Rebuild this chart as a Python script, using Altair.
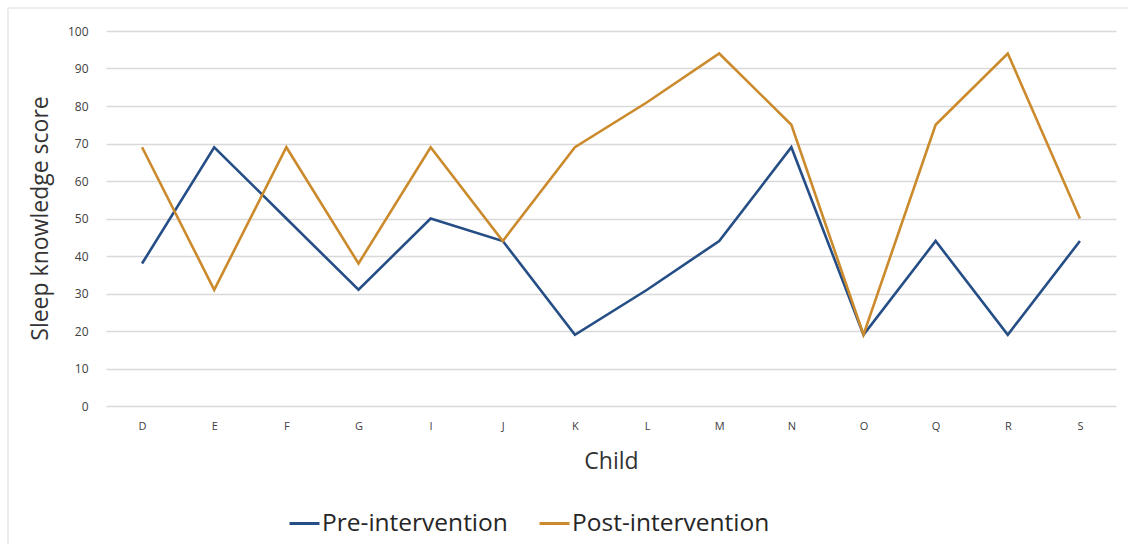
import altair as alt
import pandas as pd

children = ["D", "E", "F", "G", "I", "J", "K", "L", "M", "N", "O", "Q", "R", "S"]
pre_scores = [38, 69, 50, 31, 50, 44, 19, 31, 44, 69, 19, 44, 19, 44]
post_scores = [69, 31, 69, 38, 69, 44, 69, 81, 94, 75, 19, 75, 94, 50]
series_names = ["Pre-intervention", "Post-intervention"]
series_colors = ["#264E86", "#CB8A2C"]

rows = []
for c, a, b in zip(children, pre_scores, post_scores):
    rows.append({"Child": c, "Score": a, "Series": series_names[0]})
    rows.append({"Child": c, "Score": b, "Series": series_names[1]})
df = pd.DataFrame(rows)

FONT = "Open Sans"

lines = alt.Chart(df).mark_line(strokeWidth=2.6).encode(
    x=alt.X(
        "Child:N",
        sort=children,
        scale=alt.Scale(type="point", padding=0.5),
        axis=alt.Axis(
            title="Child",
            titleFont=FONT,
            titleFontSize=23,
            titleFontWeight="normal",
            titleColor="#333333",
            titleY=44,
            labelAngle=0,
            labelFont=FONT,
            labelFontSize=11,
            labelColor="#404040",
            labelPadding=14,
            ticks=False,
            domain=False,
            grid=False,
        ),
    ),
    y=alt.Y(
        "Score:Q",
        scale=alt.Scale(domain=[0, 100], nice=False),
        axis=alt.Axis(
            title="Sleep knowledge score",
            titleFont=FONT,
            titleFontSize=23,
            titleFontWeight="normal",
            titleColor="#333333",
            titleX=-66,
            titleY=187,
            titleAngle=270,
            titleBaseline="middle",
            titleAlign="center",
            values=list(range(0, 101, 10)),
            labelFont=FONT,
            labelFontSize=12,
            labelColor="#404040",
            labelPadding=18,
            ticks=False,
            domain=False,
            gridColor="#D9D9D9",
            gridWidth=1.5,
        ),
    ),
    color=alt.Color(
        "Series:N",
        sort=series_names,
        scale=alt.Scale(domain=series_names, range=series_colors),
        legend=alt.Legend(
            title=None,
            orient="none",
            direction="horizontal",
            legendX=182,
            legendY=476,
            symbolType="stroke",
            symbolSize=900,
            symbolStrokeWidth=3,
            labelFont=FONT,
            labelFontSize=24.5,
            labelColor="#262626",
            labelLimit=0,
            labelOffset=1,
            columnPadding=25,
        ),
    ),
)

# thin frame around the chart area (top and left edges)
frame_top = alt.Chart(df).mark_rule(color="#EDEDED", strokeWidth=2).encode(
    x=alt.value(-98), x2=alt.value(1022), y=alt.value(-23)
)
frame_left = alt.Chart(df).mark_rule(color="#EDEDED", strokeWidth=2).encode(
    x=alt.value(-98), y=alt.value(-23), y2=alt.value(513)
)

chart = alt.layer(frame_top, frame_left, lines).properties(
    width=1010,
    height=375,
    padding={"left": 106, "top": 31, "right": 12, "bottom": 138},
    autosize="none",
    background="white",
).configure_view(stroke=None)

chart.save("out.html", embed_options={"renderer": "svg", "actions": False})
